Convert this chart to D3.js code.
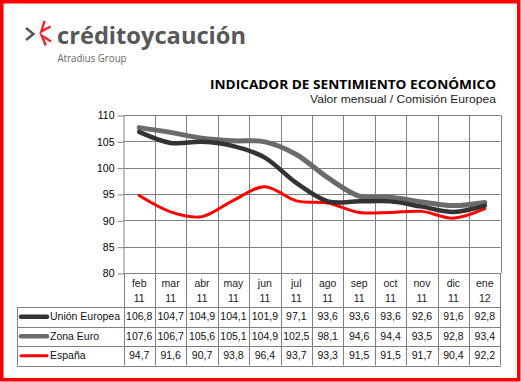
<!DOCTYPE html>
<html>
<head>
<meta charset="utf-8">
<title>Indicador de Sentimiento Económico</title>
<script src="https://d3js.org/d3.v7.min.js"></script>
<style>
  body { margin: 0; background: #fff; }
  svg text { font-family: "Liberation Sans", Arial, sans-serif; }
</style>
</head>
<body>
<svg id="chart" width="521" height="382"></svg>
<script>
// data
const months = ["feb", "mar", "abr", "may", "jun", "jul", "ago", "sep", "oct", "nov", "dic", "ene"];
const years = ["11", "11", "11", "11", "11", "11", "11", "11", "11", "11", "11", "12"];
const seriesNames = ["Unión Europea", "Zona Euro", "España"];
const unionEuropea = [106.8, 104.7, 104.9, 104.1, 101.9, 97.1, 93.6, 93.6, 93.6, 92.6, 91.6, 92.8];
const zonaEuro = [107.6, 106.7, 105.6, 105.1, 104.9, 102.5, 98.1, 94.6, 94.4, 93.5, 92.8, 93.4];
const espana = [94.7, 91.6, 90.7, 93.8, 96.4, 93.7, 93.3, 91.5, 91.5, 91.7, 90.4, 92.2];
const yTicks = [80, 85, 90, 95, 100, 105, 110];

const colors = ["#333333", "#6b6b6b", "#ff0000"];
const widths = [4.5, 5, 3];
const gridColor = "#808080";

const svg = d3.select("#chart");

// red frame
svg.append("rect")
  .attr("x", 1.75).attr("y", 1.75)
  .attr("width", 517).attr("height", 378)
  .attr("fill", "none").attr("stroke", "#ff0000").attr("stroke-width", 3.5);

// logo
const logo = svg.append("g");
logo.append("path")
  .attr("d", "M26,28 L33.5,34 L26,40")
  .attr("fill", "none").attr("stroke", "#555").attr("stroke-width", 2.4);
logo.append("path")
  .attr("d", "M44.5,21 L41.3,31.5 L50.5,26.5 M45.8,45.5 L41.7,35.5 L51,41.5")
  .attr("fill", "none").attr("stroke", "#e8262b").attr("stroke-width", 2.4);
logo.append("text")
  .attr("x", 57).attr("y", 43.5)
  .attr("textLength", 189).attr("lengthAdjust", "spacingAndGlyphs")
  .style("font-family", "'Open Sans', sans-serif")
  .style("font-weight", "bold").style("font-size", "22.5px")
  .attr("fill", "#585858")
  .text("créditoycaución");
logo.append("text")
  .attr("x", 57.5).attr("y", 61.5)
  .attr("textLength", 69).attr("lengthAdjust", "spacingAndGlyphs")
  .style("font-family", "'Open Sans', sans-serif")
  .style("font-size", "10px")
  .attr("fill", "#666")
  .text("Atradius Group");

// titles
svg.append("text")
  .attr("x", 210).attr("y", 89.3)
  .attr("textLength", 286).attr("lengthAdjust", "spacingAndGlyphs")
  .style("font-family", "'Open Sans', sans-serif")
  .style("font-weight", "bold").style("font-size", "13px")
  .attr("fill", "#000")
  .text("INDICADOR DE SENTIMIENTO ECONÓMICO");
svg.append("text")
  .attr("x", 310).attr("y", 102.5)
  .attr("textLength", 186).attr("lengthAdjust", "spacingAndGlyphs")
  .style("font-size", "11px")
  .attr("fill", "#222")
  .text("Valor mensual / Comisión Europea");

// scales
const x = d3.scaleBand().domain(months).range([123.5, 500.5]).padding(0);
const y = d3.scaleLinear().domain([80, 110]).range([273, 115]);
const cx = d => x(d) + x.bandwidth() / 2;

// grid
const grid = svg.append("g").attr("stroke", gridColor).attr("stroke-width", 1);
grid.selectAll("line.h")
  .data(yTicks)
  .join("line")
  .attr("class", "h")
  .attr("x1", 123.5).attr("x2", 500.5)
  .attr("y1", d => Math.round(y(d)) + 0.5).attr("y2", d => Math.round(y(d)) + 0.5);
grid.selectAll("line.v")
  .data(months.slice(1).concat(["end"]))
  .join("line")
  .attr("class", "v")
  .attr("x1", (d, i) => Math.round(i < 11 ? x(d) : 500.5) + 0.5)
  .attr("x2", (d, i) => Math.round(i < 11 ? x(d) : 500.5) + 0.5)
  .attr("y1", y(110)).attr("y2", 273);

// y axis
const yAxis = svg.append("g")
  .attr("transform", "translate(123.5,0.5)")
  .call(d3.axisLeft(y).tickValues(yTicks).tickSize(6).tickSizeOuter(0).tickPadding(3));
yAxis.select(".domain").attr("stroke", gridColor);
yAxis.selectAll(".tick line").attr("stroke", gridColor);
yAxis.selectAll(".tick text")
  .style("font-size", "10.5px")
  .attr("fill", "#000");

// lines
const series = [unionEuropea, zonaEuro, espana];
const line = d3.line()
  .x((d, i) => cx(months[i]))
  .y(d => y(d))
  .curve(d3.curveCatmullRom.alpha(0));

// draw back to front: España, Zona Euro, then Unión Europea on top
[2, 1, 0].forEach(k => {
  svg.append("path")
    .datum(series[k])
    .attr("d", line)
    .attr("fill", "none")
    .attr("stroke", colors[k])
    .attr("stroke-width", widths[k])
    .attr("stroke-linecap", "round")
    .attr("stroke-linejoin", "round");
});

// data table
const tableTop = 307;
const rowH = 19.5;
const tableLeft = 17;
const table = svg.append("g").attr("stroke", gridColor).attr("stroke-width", 1);

// column borders in header + body
const colEdges = months.map(m => Math.round(x(m)) + 0.5).concat([500.5]);
table.selectAll("line.c")
  .data(colEdges)
  .join("line")
  .attr("class", "c")
  .attr("x1", d => d).attr("x2", d => d)
  .attr("y1", 273).attr("y2", tableTop + rowH * 3);
table.append("line")
  .attr("x1", tableLeft + 0.5).attr("x2", tableLeft + 0.5)
  .attr("y1", tableTop).attr("y2", tableTop + rowH * 3);
table.selectAll("line.r")
  .data(d3.range(4))
  .join("line")
  .attr("class", "r")
  .attr("x1", tableLeft).attr("x2", 500.5)
  .attr("y1", d => Math.round(tableTop + d * rowH) + 0.5)
  .attr("y2", d => Math.round(tableTop + d * rowH) + 0.5);

// category labels
const cats = svg.append("g").style("font-size", "10.5px").attr("text-anchor", "middle").attr("fill", "#222");
cats.selectAll("text.m")
  .data(months)
  .join("text")
  .attr("class", "m")
  .attr("x", d => cx(d)).attr("y", 287)
  .text(d => d);
cats.selectAll("text.yr")
  .data(years)
  .join("text")
  .attr("class", "yr")
  .attr("x", (d, i) => cx(months[i])).attr("y", 302)
  .text(d => d);

// rows
const fmt = v => v.toFixed(1).replace(".", ",");
series.forEach((vals, k) => {
  const rowY = tableTop + k * rowH;
  const g = svg.append("g");
  g.append("line")
    .attr("x1", 21).attr("x2", 47)
    .attr("y1", rowY + rowH / 2).attr("y2", rowY + rowH / 2)
    .attr("stroke", colors[k])
    .attr("stroke-width", k === 2 ? 3 : 4.5)
    .attr("stroke-linecap", "round");
  g.append("text")
    .attr("x", 50).attr("y", rowY + 13)
    .style("font-size", "10.5px")
    .attr("fill", "#111")
    .text(seriesNames[k]);
  g.selectAll("text.v")
    .data(vals)
    .join("text")
    .attr("class", "v")
    .attr("x", (d, i) => cx(months[i]))
    .attr("y", rowY + 13)
    .attr("text-anchor", "middle")
    .style("font-size", "10.5px")
    .attr("fill", "#111")
    .text(d => fmt(d));
});
</script>
</body>
</html>
